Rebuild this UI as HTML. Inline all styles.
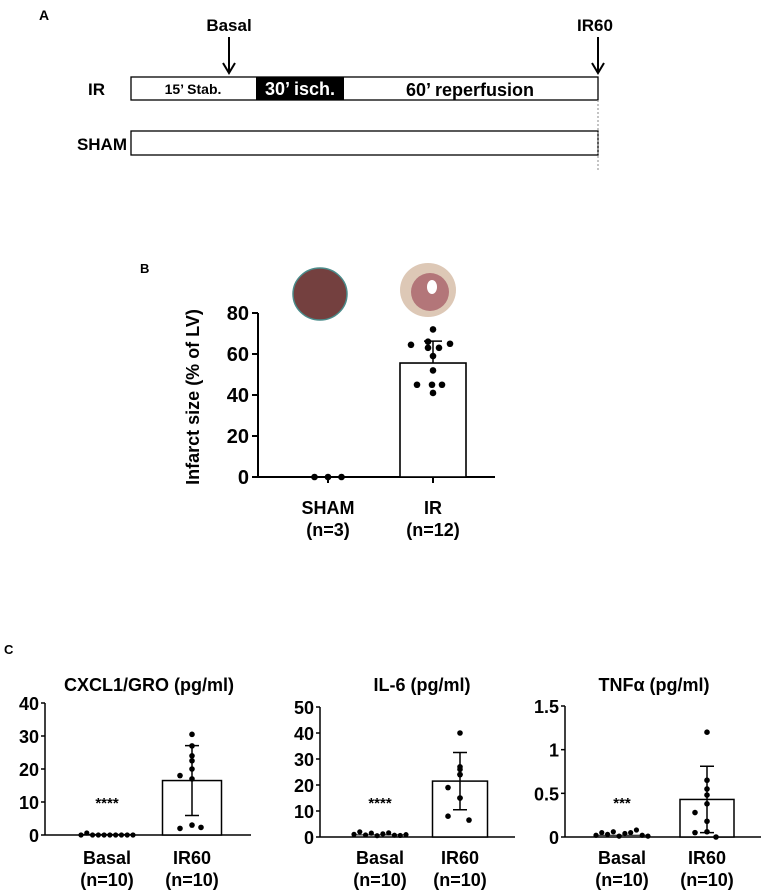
<!DOCTYPE html>
<html><head><meta charset="utf-8"><style>
html,body{margin:0;padding:0;background:#fff;}
svg{display:block;font-family:"Liberation Sans",Arial,sans-serif;font-weight:bold;}
</style></head><body>
<svg id="fig" width="765" height="893" viewBox="0 0 765 893">
<g>
<text x="39" y="20" font-size="14">A</text>
<text x="229" y="31" font-size="17" text-anchor="middle">Basal</text>
<line x1="229" y1="37" x2="229" y2="72" stroke="#000" stroke-width="2"/>
<path d="M223,63 L229,73 L235,63" fill="none" stroke="#000" stroke-width="2"/>
<text x="595" y="31" font-size="17" text-anchor="middle">IR60</text>
<line x1="598" y1="37" x2="598" y2="72" stroke="#000" stroke-width="2"/>
<path d="M592,63 L598,73 L604,63" fill="none" stroke="#000" stroke-width="2"/>
<text x="88" y="95" font-size="17">IR</text>
<rect x="131" y="77" width="467" height="23" fill="#fff" stroke="#000" stroke-width="1.3"/>
<text x="193" y="94" font-size="14" text-anchor="middle">15’ Stab.</text>
<rect x="256" y="77" width="88" height="23" fill="#000"/>
<text x="300" y="95" font-size="18" fill="#fff" text-anchor="middle">30’ isch.</text>
<text x="470" y="96" font-size="18" text-anchor="middle">60’ reperfusion</text>
<text x="127" y="150" font-size="17" text-anchor="end">SHAM</text>
<rect x="131" y="131" width="467" height="24" fill="#fff" stroke="#000" stroke-width="1.3"/>
<line x1="598" y1="100" x2="598" y2="172" stroke="#888" stroke-width="1" stroke-dasharray="2,2"/>
</g>
<g>
<text x="140" y="273" font-size="13">B</text>
<ellipse cx="320" cy="294" rx="27" ry="26" fill="#74403f" stroke="#4b8b8a" stroke-width="1.5"/>
<ellipse cx="428" cy="290" rx="28" ry="27" fill="#ddc8b6"/>
<ellipse cx="430" cy="292" rx="19" ry="19" fill="#a9616a" opacity="0.8"/>
<ellipse cx="432" cy="287" rx="5" ry="7" fill="#fff"/>
<text transform="translate(199,397) rotate(-90)" font-size="18" text-anchor="middle">Infarct size (% of LV)</text>
<g id="chartB"></g>
</g>
<g>
<text x="4" y="654" font-size="13">C</text>
<g id="chartC1"></g><g id="chartC2"></g><g id="chartC3"></g>
</g>
</svg>
<script>
// Panel B data
const bCategories = ["SHAM", "IR"];
const bSubLabels = ["(n=3)", "(n=12)"];
const bMeans = [0, 55.6];
const bSD = [0, 10.7];
const bShamPoints = [0, 0, 0];
const bIrPoints = [72, 66, 64.5, 63, 63, 65, 59, 52, 45, 45, 45, 41];
const bTicks = [0, 20, 40, 60, 80];
// Panel C data
const cTitles = ["CXCL1/GRO (pg/ml)", "IL-6 (pg/ml)", "TNFα (pg/ml)"];
const cCategories = ["Basal", "IR60"];
const cSubLabels = ["(n=10)", "(n=10)"];
const cTickLabels = [["0","10","20","30","40"], ["0","10","20","30","40","50"], ["0","0.5","1","1.5"]];
const cTicks = [[0,10,20,30,40], [0,10,20,30,40,50], [0,0.5,1,1.5]];
const cMax = [40, 50, 1.5];
const cBasalMeans = [0.2, 0.8, 0.02];
const cIrMeans = [16.5, 21.5, 0.43];
const cIrSD = [10.6, 11, 0.38];
const cBasalPoints = [[0,0.6,0,0,0,0,0,0,0,0],[1,2,0.8,1.5,0.5,1.2,1.6,0.7,0.6,0.9],[0.02,0.05,0.03,0.06,0.01,0.04,0.05,0.08,0.02,0.01]];
const cIrPoints = [[30.5,27,24,22.5,20,18,17,3,2,2.3],[40,27,26,24,24,19,15,15,8,6.5],[1.2,0.65,0.55,0.48,0.38,0.28,0.18,0.06,0.05,0.0]];
const cStars = ["****", "****", "***"];

const NS = "http://www.w3.org/2000/svg";
function mk(parent, tag, attrs, text) {
  const e = document.createElementNS(NS, tag);
  for (const k in attrs) e.setAttribute(k, attrs[k]);
  if (text !== undefined) e.textContent = text;
  parent.appendChild(e);
  return e;
}
function jitter(i, n, w) {
  return (n <= 1) ? 0 : (i - (n - 1) / 2) * (w / Math.max(n - 1, 1));
}

// ---- Panel B ----
(function () {
  const g = document.getElementById("chartB");
  const x0 = 258, yTop = 313, yBot = 477, maxV = 80;
  const y = v => yBot - v / maxV * (yBot - yTop);
  const cx = [328, 433];
  let e = mk(g, "line", {x1: x0, y1: yTop, x2: x0, y2: yBot, stroke: "#000", "stroke-width": 2});
  
  
  e = mk(g, "line", {x1: x0 - 6, y1: yBot, x2: 495, y2: yBot, stroke: "#000", "stroke-width": 2});
  
  
  bTicks.forEach(t => {
    mk(g, "line", {x1: x0 - 6, y1: y(t), x2: x0, y2: y(t), stroke: "#000", "stroke-width": 2});
    const l = mk(g, "text", {x: x0 - 9, y: y(t) + 7, "font-size": 20, "text-anchor": "end"}, String(t));
    
    
  });
  bCategories.forEach((c, i) => {
    mk(g, "line", {x1: cx[i], y1: yBot, x2: cx[i], y2: yBot + 6, stroke: "#000", "stroke-width": 2});
    const l = mk(g, "text", {x: cx[i], y: 514, "font-size": 18, "text-anchor": "middle"}, c);
    
    
    const s = mk(g, "text", {x: cx[i], y: 536, "font-size": 18, "text-anchor": "middle"}, bSubLabels[i]);
    
    
    if (bMeans[i] > 0) {
      const b = mk(g, "rect", {x: cx[i] - 33, y: y(bMeans[i]), width: 66, height: yBot - y(bMeans[i]), fill: "#fff", stroke: "#000", "stroke-width": 1.6});
      
      
      const eb = mk(g, "path", {d: `M${cx[i]},${y(bMeans[i])} V${y(bMeans[i] + bSD[i])} M${cx[i]-9},${y(bMeans[i] + bSD[i])} H${cx[i]+9}`, stroke: "#000", "stroke-width": 1.5, fill: "none"});
      
      
    }
  });
  bShamPoints.forEach((v, i) => {
    const p = mk(g, "circle", {cx: cx[0] + jitter(i, 3, 27), cy: y(v), r: 3.3, fill: "#000"});
    
    
  });
  const irOff = [0, -5, -22, -5, 6, 17, 0, 0, -16, -1, 9, 0];
  bIrPoints.forEach((v, i) => {
    const p = mk(g, "circle", {cx: cx[1] + irOff[i], cy: y(v), r: 3.3, fill: "#000"});
    
    
  });
})();

// ---- Panel C ----
const cLayout = [
  {id: "chartC1", ax: 45, xEnd: 251, yTop: 703, yBot: 835, cx: [107, 192], bw: 59, titleX: 149},
  {id: "chartC2", ax: 320, xEnd: 515, yTop: 707, yBot: 837, cx: [380, 460], bw: 55, titleX: 422},
  {id: "chartC3", ax: 565, xEnd: 761, yTop: 706, yBot: 837, cx: [622, 707], bw: 54, titleX: 654}
];
cLayout.forEach((L, k) => {
  const g = document.getElementById(L.id);
  const y = v => L.yBot - v / cMax[k] * (L.yBot - L.yTop);
  let e = mk(g, "text", {x: L.titleX, y: 691, "font-size": 18, "text-anchor": "middle"}, cTitles[k]);
  
  
  e = mk(g, "line", {x1: L.ax, y1: L.yTop, x2: L.ax, y2: L.yBot, stroke: "#000", "stroke-width": 1.5});
  
  
  e = mk(g, "line", {x1: L.ax, y1: L.yBot, x2: L.xEnd, y2: L.yBot, stroke: "#000", "stroke-width": 1.5});
  
  
  cTicks[k].forEach((t, j) => {
    mk(g, "line", {x1: L.ax - 4, y1: y(t), x2: L.ax, y2: y(t), stroke: "#000", "stroke-width": 1.5});
    const l = mk(g, "text", {x: L.ax - 6, y: y(t) + 7, "font-size": 18, "text-anchor": "end"}, cTickLabels[k][j]);
    
    
  });
  cCategories.forEach((c, i) => {
    const l = mk(g, "text", {x: L.cx[i], y: 864, "font-size": 18, "text-anchor": "middle"}, c);
    
    
    const s = mk(g, "text", {x: L.cx[i], y: 886, "font-size": 18, "text-anchor": "middle"}, cSubLabels[i]);
    
    
  });
  const bb = mk(g, "line", {x1: L.cx[0] - 25, y1: y(cBasalMeans[k]), x2: L.cx[0] + 25, y2: y(cBasalMeans[k]), stroke: "#000", "stroke-width": 1});
  
  
  const b = mk(g, "rect", {x: L.cx[1] - L.bw / 2, y: y(cIrMeans[k]), width: L.bw, height: L.yBot - y(cIrMeans[k]), fill: "#fff", stroke: "#000", "stroke-width": 1.5});
  
  
  const hi = y(cIrMeans[k] + cIrSD[k]), lo = y(cIrMeans[k] - cIrSD[k]), X = L.cx[1];
  const eb = mk(g, "path", {d: `M${X},${lo} V${hi} M${X-7},${hi} H${X+7} M${X-7},${lo} H${X+7}`, stroke: "#000", "stroke-width": 1.5, fill: "none"});
  
  
  const st = mk(g, "text", {x: L.cx[0], y: 808, "font-size": 15, "text-anchor": "middle"}, cStars[k]);
  
  
  cBasalPoints[k].forEach((v, i) => {
    const p = mk(g, "circle", {cx: L.cx[0] + jitter(i, 10, 52), cy: y(v), r: 2.6, fill: "#000"});
    
    
  });
  const off = [0, 0, 0, 0, 0, -12, 0, 0, -12, 9];
  cIrPoints[k].forEach((v, i) => {
    const p = mk(g, "circle", {cx: L.cx[1] + off[i], cy: y(v), r: 2.8, fill: "#000"});
    
    
  });
});
</script>
</body></html>
